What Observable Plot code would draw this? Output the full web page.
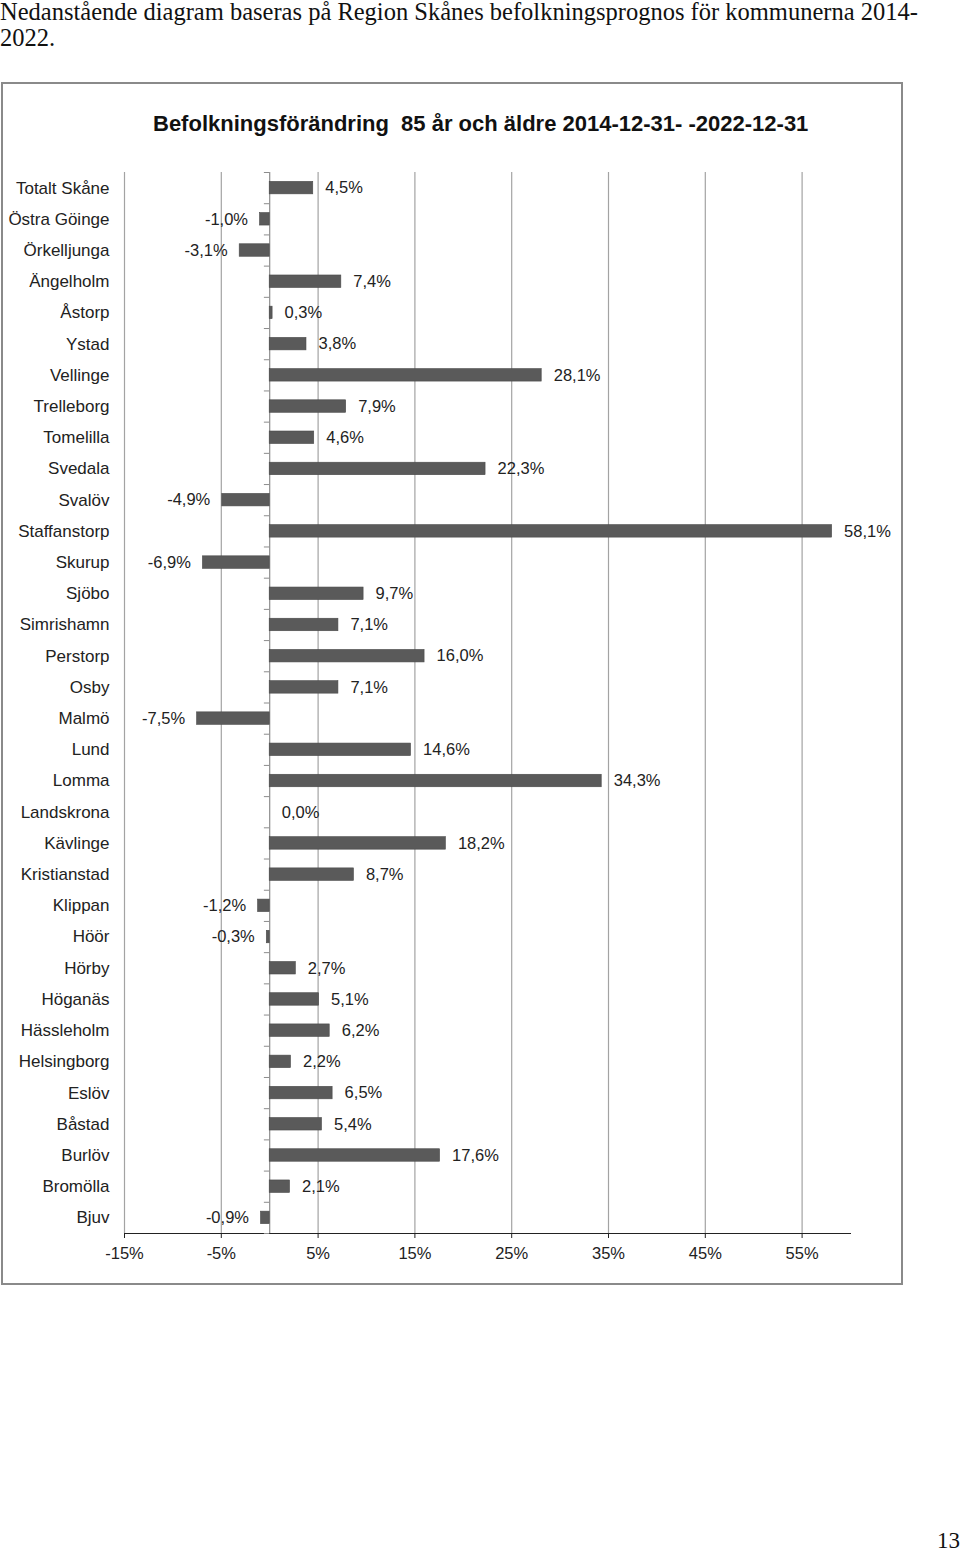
<!DOCTYPE html>
<html>
<head>
<meta charset="utf-8">
<script src="https://cdn.jsdelivr.net/npm/d3@7"></script>
<script src="https://cdn.jsdelivr.net/npm/@observablehq/plot@0.6"></script>
<style>
  html, body { margin: 0; padding: 0; background: #fff; }
  body { width: 960px; height: 1554px; position: relative; overflow: hidden; }
  .intro { position: absolute; left: 0; top: -1px; font-family: "Liberation Serif", "Times New Roman", serif; font-size: 24.5px; line-height: 26px; color: #111; white-space: nowrap; }
  .box { position: absolute; left: 1px; top: 82px; width: 898px; height: 1199px; border: 2px solid #8a8a8a; }
  .title { position: absolute; left: 153px; top: 111px; font-family: "Liberation Sans", Arial, sans-serif; font-weight: bold; font-size: 22px; color: #111; white-space: pre; }
  #chart { position: absolute; left: 0; top: 160px; }
  .pagenum { position: absolute; right: 0; top: 1528px; font-family: "Liberation Serif", "Times New Roman", serif; font-size: 23px; color: #111; }
</style>
</head>
<body>
<div class="intro">Nedanstående diagram baseras på Region Skånes befolkningsprognos för kommunerna 2014-<br>2022.</div>
<div class="box"></div>
<div class="title">Befolkningsförändring  85 år och äldre 2014-12-31- -2022-12-31</div>
<div id="chart"></div>
<div class="pagenum">13</div>
<script>
const names = ["Totalt Skåne","Östra Göinge","Örkelljunga","Ängelholm","Åstorp","Ystad","Vellinge","Trelleborg","Tomelilla","Svedala","Svalöv","Staffanstorp","Skurup","Sjöbo","Simrishamn","Perstorp","Osby","Malmö","Lund","Lomma","Landskrona","Kävlinge","Kristianstad","Klippan","Höör","Hörby","Höganäs","Hässleholm","Helsingborg","Eslöv","Båstad","Burlöv","Bromölla","Bjuv"];
const values = [4.5,-1.0,-3.1,7.4,0.3,3.8,28.1,7.9,4.6,22.3,-4.9,58.1,-6.9,9.7,7.1,16.0,7.1,-7.5,14.6,34.3,0.0,18.2,8.7,-1.2,-0.3,2.7,5.1,6.2,2.2,6.5,5.4,17.6,2.1,-0.9];
const xTicks = [-15,-5,5,15,25,35,45,55];

const data = names.map((n, i) => ({name: n, value: values[i]}));
const fmt = v => v.toFixed(1).replace(".", ",") + "%";

const W = 900, H = 1113, MT = 12, MB = 40, ML = 124, MR = 50;
const step = (H - MT - MB) / names.length;

const chart = Plot.plot({
  width: W, height: H,
  marginTop: MT, marginBottom: MB, marginLeft: ML, marginRight: MR,
  style: {background: "none", fontFamily: "'Liberation Sans', Arial, sans-serif", fontSize: "16.5px", color: "#222"},
  x: {domain: [-15, 60], ticks: xTicks, tickFormat: d => `${d}%`, tickSize: 5, tickPadding: 9, label: null, line: true},
  y: {domain: names, paddingInner: 0.6, paddingOuter: 0.3, round: false, axis: null},
  marks: [
    Plot.axisY({tickSize: 0, tickPadding: 15, label: null, fontSize: 17}),
    Plot.ruleX(xTicks, {stroke: "#a3a3a3", strokeWidth: 1.2}),
    Plot.ruleX([0], {stroke: "#8c8c8c", strokeWidth: 1.2}),
    Plot.ruleY(names, {y: d => d, x1: -0.55, x2: 0, dy: -step / 2, stroke: "#8c8c8c"}),
    Plot.ruleY(names.slice(-1), {y: d => d, x1: -0.55, x2: 0, dy: step / 2, stroke: "#8c8c8c"}),
    Plot.barX(data, {x: "value", y: "name", fill: "#5a5a5a", stroke: "#4a4a4a", strokeWidth: 0.6}),
    Plot.text(data.filter(d => d.value >= 0), {x: "value", y: "name", text: d => fmt(d.value), textAnchor: "start", dx: 12, fill: "#222", fontSize: 16.5}),
    Plot.text(data.filter(d => d.value < 0), {x: "value", y: "name", text: d => fmt(d.value), textAnchor: "end", dx: -12, fill: "#222", fontSize: 16.5})
  ]
});
document.getElementById("chart").appendChild(chart);
</script>
</body>
</html>
